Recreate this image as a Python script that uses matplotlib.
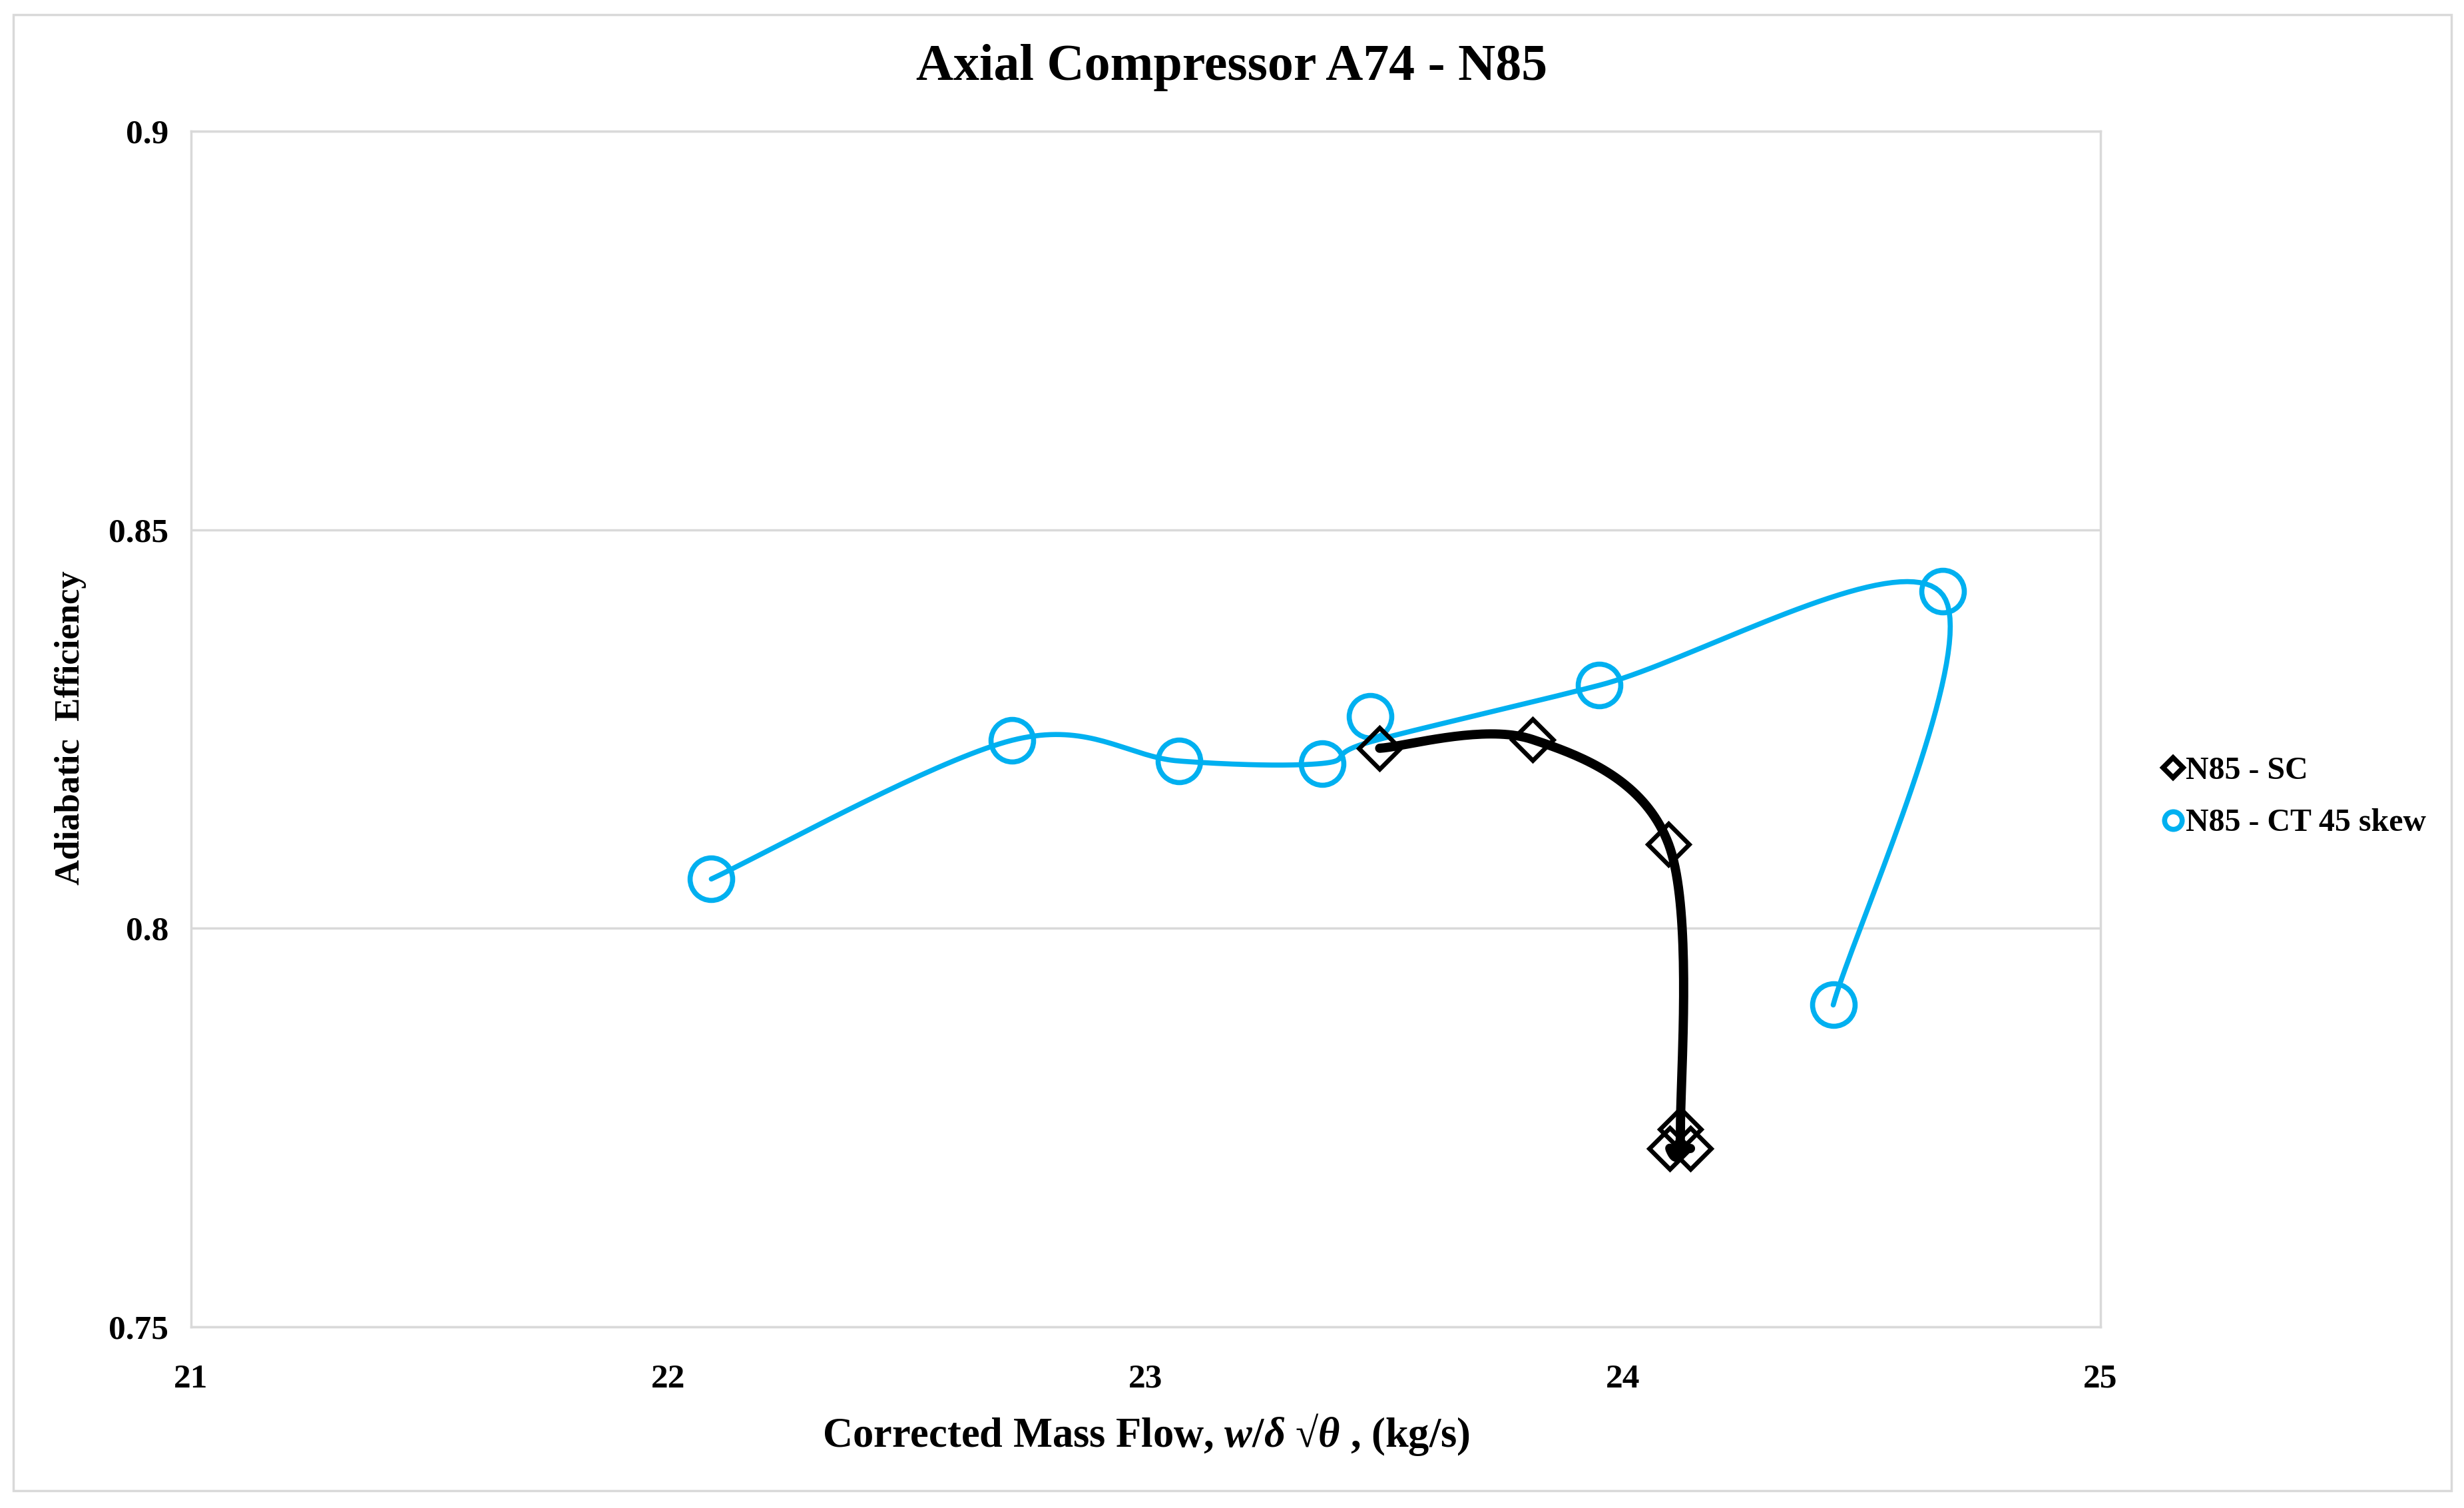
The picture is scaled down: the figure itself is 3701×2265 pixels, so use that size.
import numpy as np
import matplotlib
matplotlib.use("Agg")
import matplotlib.pyplot as plt
from matplotlib.patches import Rectangle
from matplotlib.lines import Line2D

# ---------------- data ----------------
title = "Axial Compressor A74 - N85"
xlabel = "Corrected Mass Flow, $w/\\delta$ \u221a$\\theta$ , (kg/s)"
ylabel = "Adiabatic  Efficiency"

sc_label = "N85 - SC"
sc_flow = [23.49, 23.81, 24.095, 24.12, 24.098, 24.141]
sc_eff = [0.8226, 0.8237, 0.8106, 0.7748, 0.7724, 0.7724]

ct_label = "N85 - CT 45 skew"
ct_flow = [22.09, 22.72, 23.07, 23.37, 23.47, 23.95, 24.67, 24.44]
ct_eff = [0.8062, 0.8236, 0.8210, 0.8207, 0.8266, 0.8305, 0.8423, 0.7904]
# smoothed trace as drawn (passes slightly below the 23.47 marker)
ct_curve_eff = [0.8062, 0.8236, 0.8210, 0.8207, 0.8234, 0.8305, 0.8418, 0.7904]

xticks = [21, 22, 23, 24, 25]
yticks = [0.75, 0.8, 0.85, 0.9]
ytick_labels = ["0.75", "0.8", "0.85", "0.9"]

BLUE = "#00B0F0"
GRID = "#D9D9D9"


def smooth(xs, ys, n=40):
    """Catmull-Rom style smoothed curve through the points (like Excel's smoothed line)."""
    P = np.column_stack([xs, ys]).astype(float)
    P = np.vstack([P[0], P, P[-1]])
    out = []
    t = np.linspace(0, 1, n)
    for i in range(1, len(P) - 2):
        p0, p1, p2, p3 = P[i - 1], P[i], P[i + 1], P[i + 2]
        c1 = p1 + (p2 - p0) / 6.0
        c2 = p2 - (p3 - p1) / 6.0
        seg = ((1 - t) ** 3)[:, None] * p1 + (3 * (1 - t) ** 2 * t)[:, None] * c1 \
            + (3 * (1 - t) * t ** 2)[:, None] * c2 + (t ** 3)[:, None] * p2
        out.append(seg if i == 1 else seg[1:])
    out = np.vstack(out)
    return out[:, 0], out[:, 1]


plt.rcParams["font.family"] = ["Liberation Serif", "DejaVu Serif"]
plt.rcParams["font.weight"] = "bold"
plt.rcParams["mathtext.fontset"] = "custom"
plt.rcParams["mathtext.it"] = "Liberation Serif:italic"
plt.rcParams["mathtext.rm"] = "Liberation Serif"

fig = plt.figure(figsize=(37.01, 22.65), dpi=100)
ax = fig.add_axes([0.0775, 0.120, 0.775, 0.793])

# outer chart border
fig.patches.append(Rectangle((0.0053, 0.0115), 0.9897, 0.979, transform=fig.transFigure,
                             fill=False, edgecolor=GRID, linewidth=2.5))

# CT series
cx, cy = smooth(ct_flow, ct_curve_eff)
ax.plot(cx, cy, color=BLUE, linewidth=5.5, solid_capstyle="round", zorder=3)
ax.plot(ct_flow, ct_eff, linestyle="none", marker="o", markersize=46,
        markerfacecolor="none", markeredgecolor=BLUE, markeredgewidth=5.5, zorder=4)

# SC series
sx, sy = smooth(sc_flow, sc_eff)
ax.plot(sx, sy, color="black", linewidth=10, solid_capstyle="round", zorder=5)
ax.plot(sc_flow, sc_eff, linestyle="none", marker="D", markersize=32,
        markerfacecolor="none", markeredgecolor="black", markeredgewidth=4.8, zorder=6)

ax.set_xlim(21, 25)
ax.set_ylim(0.75, 0.9)
ax.set_xticks(xticks)
ax.set_yticks(yticks)
ax.set_yticklabels(ytick_labels)
ax.tick_params(axis="both", length=0, labelsize=37)
ax.tick_params(axis="x", pad=40)
ax.tick_params(axis="y", pad=24)
for lab in ax.get_xticklabels() + ax.get_yticklabels():
    lab.set_fontweight("bold")
ax.yaxis.grid(True, color=GRID, linewidth=2.5)
ax.set_axisbelow(True)
for s in ax.spines.values():
    s.set_color(GRID)
    s.set_linewidth(2.5)

fig.text(0.5, 0.955, title, ha="center", va="center", fontsize=56, fontweight="bold")
fig.text(0.465, 0.0486, xlabel, ha="center", va="center", fontsize=45, fontweight="bold")
fig.text(0.0287, 0.5175, ylabel, ha="center", va="center", rotation=90, fontsize=38,
         fontweight="bold")

handles = [
    Line2D([], [], linestyle="none", marker="D", markersize=15, markerfacecolor="none",
           markeredgecolor="black", markeredgewidth=5.5),
    Line2D([], [], linestyle="none", marker="o", markersize=19, markerfacecolor="none",
           markeredgecolor=BLUE, markeredgewidth=5.5),
]
fig.legend(handles, [sc_label, ct_label], loc="center left", bbox_to_anchor=(0.8715, 0.4715),
           frameon=False, prop={"family": "Liberation Serif", "weight": "bold", "size": 34.5},
           handlelength=0.6, handletextpad=0.1, labelspacing=0.72, borderpad=0)

fig.savefig("out.png", dpi=100)
